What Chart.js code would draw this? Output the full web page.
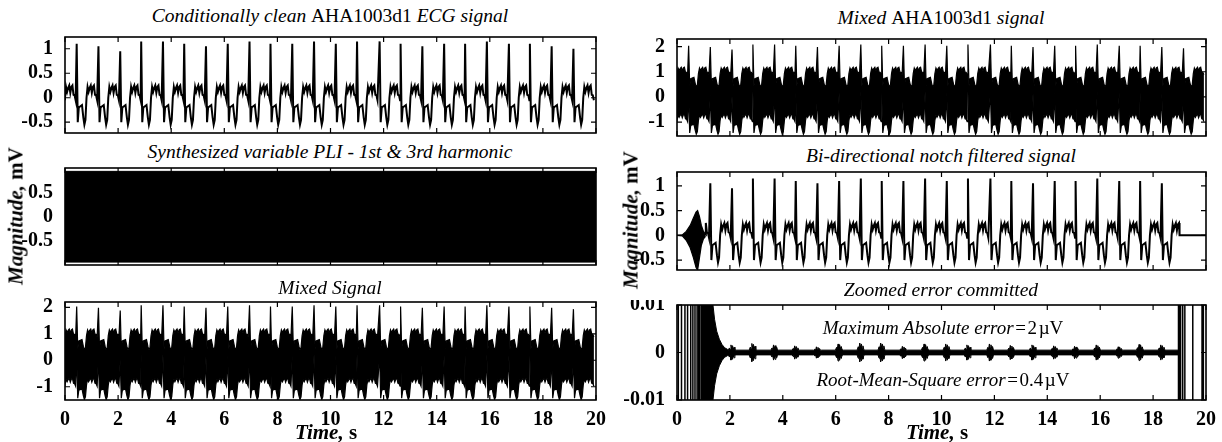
<!DOCTYPE html>
<html>
<head>
<meta charset="utf-8">
<script src="https://cdn.jsdelivr.net/npm/chart.js@4.4.0/dist/chart.umd.min.js"></script>
<style>
  body { margin: 0; background: #fff; width: 1222px; height: 442px; position: relative; overflow: hidden; font-family: "Liberation Serif", serif; color: #000; }
  canvas { position: absolute; }
  .t { position: absolute; font-size: 19.5px; font-style: italic; white-space: nowrap; transform: translate(-50%, -50%); z-index: 2; }
  .t b { font-weight: normal; font-style: normal; }
  .yl { position: absolute; font-size: 21px; font-weight: bold; white-space: nowrap; transform: translate(-50%, -50%) rotate(-90deg); z-index: 2; }
  .xl { position: absolute; font-size: 21px; font-weight: bold; font-style: italic; white-space: nowrap; transform: translate(-50%, -50%); z-index: 2; }
  .note { position: absolute; font-size: 19px; font-style: italic; white-space: nowrap; transform: translate(-50%, -50%); z-index: 2; }
  .note span { font-style: normal; }
</style>
</head>
<body>
<div class="t" style="left:330px;top:16px">Conditionally clean <b>AHA1003d1</b> ECG signal</div>
<div class="t" style="left:330px;top:152px">Synthesized variable PLI - 1st &amp; 3rd harmonic</div>
<div class="t" style="left:330px;top:288px">Mixed Signal</div>
<div class="t" style="left:941px;top:18px">Mixed <b>AHA1003d1</b> signal</div>
<div class="t" style="left:941px;top:156px">Bi-directional notch filtered signal</div>
<div class="t" style="left:941px;top:290px">Zoomed error committed</div>
<div class="yl" style="left:16px;top:216px"><i>Magnitude,</i> mV</div>
<div class="yl" style="left:631px;top:220px"><i>Magnitude,</i> mV</div>
<div class="xl" style="left:326px;top:432px">Time, <span style="font-style:normal">s</span></div>
<div class="xl" style="left:937px;top:432px">Time, <span style="font-style:normal">s</span></div>
<div class="note" style="left:943px;top:328px">Maximum Absolute error<span>&#8202;=&#8202;2&#8202;µV</span></div>
<div class="note" style="left:943px;top:380px">Root-Mean-Square error<span>&#8202;=&#8202;0.4&#8202;µV</span></div>

<canvas id="c1" width="606" height="106" style="left:5px;top:32px;width:606px;height:106px"></canvas>
<canvas id="c2" width="606" height="107" style="left:5px;top:163px;width:606px;height:107px"></canvas>
<canvas id="c3" width="606" height="138" style="left:5px;top:297px;width:606px;height:138px"></canvas>
<canvas id="c4" width="604" height="107" style="left:617px;top:34px;width:604px;height:107px"></canvas>
<canvas id="c5" width="604" height="108" style="left:617px;top:167px;width:604px;height:108px"></canvas>
<canvas id="c6" width="604" height="135" style="left:617px;top:300px;width:604px;height:135px"></canvas>

<script>
// R-peak times (s) and heights (mV)
var beatTimes = [-0.37, 0.44, 1.26, 2.08, 2.87, 3.69, 4.49, 5.31, 6.13, 6.95, 7.74, 8.56, 9.38,
  10.2, 11.0, 11.85, 12.64, 13.46, 14.28, 15.07, 15.89, 16.72, 17.51, 18.33, 19.15];
var beatPeaks = [1.0, 1.1, 1.05, 0.95, 1.15, 1.15, 1.1, 1.05, 1.1, 1.15, 1.1, 1.1, 1.15,
  1.1, 1.15, 1.15, 1.1, 1.05, 1.1, 1.1, 1.15, 1.1, 1.1, 1.05, 1.0];
// one beat after the R peak (offset s, value mV)
var beatOffsets = [0, 0.04, 0.08, 0.2, 0.25, 0.29, 0.33, 0.37, 0.41, 0.45, 0.49, 0.53, 0.57, 0.61, 0.65, 0.69, 0.73, 0.77];
var beatValues  = [null, -0.5, -0.2, -0.15, -0.4, -0.55, -0.45, 0.0, 0.22, 0.12, 0.2, 0.25, 0.1, 0.22, 0.25, 0.06, 0.05, -0.05];

// power line interference band
var pliTimes = [0, 20];
var pliUpper = [0.95, 0.95];
var pliLower = [-0.94, -0.94];
var pliHalfWidth = 0.93;

// filter start-up transient and cut-off (notch filtered panel)
var transTimes = [0, 0.2, 0.35, 0.5, 0.62, 0.72, 0.78, 0.85, 0.92, 1.0, 1.08];
var transUpper = [0, 0.01, 0.08, 0.2, 0.35, 0.47, 0.5, 0.38, 0.2, 0.08, 0.02];
var transLower = [0, -0.01, -0.1, -0.25, -0.45, -0.65, -0.7, -0.45, -0.2, -0.07, -0.02];
var filtStart = 1.08;
var filtEnd = 19.0;

// error panel
var errDecayTimes = [0.9, 1.35, 1.42, 1.5, 1.6, 1.7, 1.8, 1.9];
var errDecayAmp = [0.05, 0.0105, 0.007, 0.0045, 0.0028, 0.0017, 0.001, 0.0007];
var errBase = 0.0005;
var burstAmps = [0.0016, 0.0019, 0.0016, 0.0014, 0.0012, 0.0018, 0.002, 0.002, 0.0013, 0.0018, 0.0018,
  0.0016, 0.0018, 0.0015, 0.0016, 0.0014, 0.0013, 0.0016, 0.0012, 0.0017, 0.0016];
var burstShape = [[-0.14, 0], [-0.1, 0.6], [-0.07, 0.4], [-0.04, 1], [-0.01, 0.55], [0.02, 0.9],
  [0.05, 0.45], [0.08, 0.7], [0.11, 0.35], [0.15, 0]];
var errLineTimes = [0.05, 0.17, 0.3, 0.4, 0.52, 0.6, 0.68, 0.76, 0.82, 0.87,
  18.96, 19.0, 19.04, 19.12, 19.2, 19.5, 19.85, 19.9];

var xTicks = [0, 2, 4, 6, 8, 10, 12, 14, 16, 18, 20];
var yTicksEcg = [-0.5, 0, 0.5, 1];
var yTicksPli = [-0.5, 0, 0.5];
var yTicksMix = [-1, 0, 1, 2];
var yTicksErr = [-0.01, 0, 0.01];

Chart.defaults.font.family = '"Liberation Serif", serif';
Chart.defaults.color = '#000';

// build the ECG trace from beat times and the beat shape
var ecg = [{x: 0, y: -0.05}];
beatTimes.forEach(function (t, i) {
  beatOffsets.forEach(function (o, k) {
    var v = k === 0 ? beatPeaks[i] : beatValues[k];
    if (t + o >= 0) ecg.push({x: t + o, y: v});
  });
});
ecg.sort(function (a, b) { return a.x - b.x; });

var mixUp = ecg.map(function (p) { return {x: p.x, y: p.y + pliHalfWidth}; });
var mixLo = ecg.map(function (p) { return {x: p.x, y: p.y - pliHalfWidth}; });

var filtered = ecg.filter(function (p) { return p.x >= filtStart && p.x <= filtEnd; });
filtered.unshift({x: transTimes[transTimes.length - 1], y: 0});
filtered.push({x: filtEnd, y: 0}, {x: 20, y: 0});

var errUp = [], errLo = [];
errDecayTimes.forEach(function (t, i) {
  errUp.push({x: t, y: errDecayAmp[i]});
  errLo.push({x: t, y: -errDecayAmp[i]});
});
var burstBeats = beatTimes.filter(function (t) { return t > 1.9 && t < 18.5; });
burstBeats.forEach(function (t, i) {
  burstShape.forEach(function (s) {
    var a = Math.max(errBase, s[1] * burstAmps[i]);
    errUp.push({x: t + s[0], y: a});
    errLo.push({x: t + s[0], y: -a});
  });
});
errUp.push({x: 18.95, y: errBase});
errLo.push({x: 18.95, y: -errBase});

var errLines = [];
errLineTimes.forEach(function (t, i) {
  var s = i % 2 === 0 ? 1 : -1;
  errLines.push({x: t, y: s}, {x: t, y: -s});
});

function pts(xs, ys) {
  return xs.map(function (x, i) { return {x: x, y: ys[i]}; });
}

var frame = {
  id: 'frame',
  afterDatasetsDraw: function (chart, args, opts) {
    var ctx = chart.ctx, a = chart.chartArea, sx = chart.scales.x, sy = chart.scales.y;
    ctx.save();
    ctx.strokeStyle = '#000';
    ctx.lineWidth = 1.2;
    ctx.beginPath();
    opts.xt.forEach(function (v) {
      var x = sx.getPixelForValue(v);
      ctx.moveTo(x, a.top); ctx.lineTo(x, a.top + 5);
      ctx.moveTo(x, a.bottom); ctx.lineTo(x, a.bottom - 5);
    });
    opts.yt.forEach(function (v) {
      var y = sy.getPixelForValue(v);
      ctx.moveTo(a.left, y); ctx.lineTo(a.left + 5, y);
      ctx.moveTo(a.right, y); ctx.lineTo(a.right - 5, y);
    });
    ctx.stroke();
    ctx.lineWidth = 1.6;
    ctx.strokeRect(a.left, a.top, a.right - a.left, a.bottom - a.top);
    ctx.restore();
  }
};

var tickFont = {size: 20, weight: 'bold', family: '"Liberation Serif", serif'};

function noPad(s) {
  s.paddingTop = 0; s.paddingBottom = 0; s.paddingLeft = 0; s.paddingRight = 0;
}

function makeChart(id, datasets, yMin, yMax, yTicks, showX) {
  return new Chart(document.getElementById(id), {
    type: 'line',
    data: {datasets: datasets},
    options: {
      responsive: false,
      animation: false,
      events: [],
      layout: {padding: {top: 5, right: 15, bottom: 5, left: 0}},
      elements: {
        point: {radius: 0},
        line: {tension: 0, borderColor: '#000', borderWidth: 1.8, backgroundColor: '#000'}
      },
      plugins: {
        legend: {display: false},
        tooltip: {enabled: false},
        frame: {xt: xTicks, yt: yTicks}
      },
      scales: {
        x: {
          type: 'linear', min: 0, max: 20,
          grid: {display: false}, border: {display: false},
          afterBuildTicks: function (s) { s.ticks = xTicks.map(function (v) { return {value: v}; }); },
          afterFit: function (s) { s.height = showX ? 30 : 0; noPad(s); },
          ticks: {display: showX, padding: 0, font: tickFont, maxRotation: 0, autoSkip: false,
            callback: function (v) { return String(v); }}
        },
        y: {
          type: 'linear', min: yMin, max: yMax,
          grid: {display: false}, border: {display: false},
          afterBuildTicks: function (s) { s.ticks = yTicks.map(function (v) { return {value: v}; }); },
          afterFit: function (s) { s.width = 60; noPad(s); },
          ticks: {padding: 4, font: tickFont, autoSkip: false,
            callback: function (v) { return String(v); }}
        }
      }
    },
    plugins: [frame]
  });
}

// left column
makeChart('c1', [
  {data: ecg, borderWidth: 2}
], -0.72, 1.24, yTicksEcg, false);

makeChart('c2', [
  {data: pts(pliTimes, pliUpper), fill: '+1', borderWidth: 1},
  {data: pts(pliTimes, pliLower), fill: false, borderWidth: 1}
], -1.0, 1.02, yTicksPli, false);

makeChart('c3', [
  {data: mixUp, fill: '+1', borderWidth: 1.2},
  {data: mixLo, fill: false, borderWidth: 1.2}
], -1.5, 2.2, yTicksMix, true);

// right column
makeChart('c4', [
  {data: mixUp, fill: '+1', borderWidth: 1.2},
  {data: mixLo, fill: false, borderWidth: 1.2}
], -1.55, 2.3, yTicksMix, false);

makeChart('c5', [
  {data: pts(transTimes, transUpper), fill: '+1', borderWidth: 1.2},
  {data: pts(transTimes, transLower), fill: false, borderWidth: 1.2},
  {data: filtered, borderWidth: 2}
], -0.7, 1.28, yTicksEcg, false);

makeChart('c6', [
  {data: errUp, fill: '+1', borderWidth: 1},
  {data: errLo, fill: false, borderWidth: 1},
  {data: errLines, borderWidth: 1.5}
], -0.01, 0.01, yTicksErr, true);
</script>
</body>
</html>
